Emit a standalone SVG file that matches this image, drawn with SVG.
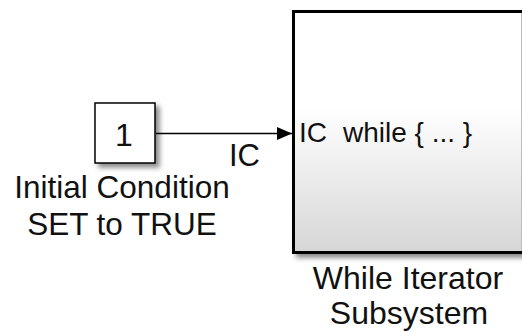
<svg xmlns="http://www.w3.org/2000/svg" width="522" height="332" viewBox="0 0 522 332">
  <style>
    .lbl { font-family: "Liberation Sans", Arial, sans-serif; fill: #111; }
    .blk { stroke: #000; }
  </style>
  <defs>
    <filter id="shadow" x="-10%" y="-10%" width="130%" height="130%">
      <feDropShadow dx="4" dy="4" stdDeviation="2.5" flood-color="#000" flood-opacity="0.45"/>
    </filter>
    <linearGradient id="grad" x1="0" y1="0" x2="0" y2="1">
      <stop offset="0" stop-color="#ffffff"/>
      <stop offset="0.4" stop-color="#ffffff"/>
      <stop offset="1" stop-color="#d6d6d6"/>
    </linearGradient>
    <marker id="arrow" markerUnits="userSpaceOnUse" markerWidth="16" markerHeight="14" refX="15" refY="6.5" orient="auto">
      <path d="M0,0 L15,6.5 L0,13 Z" fill="#000"/>
    </marker>
  </defs>

  <g id="connectors">
    <line x1="156" y1="133.5" x2="292" y2="133.5" stroke="#000" stroke-width="1.5" marker-end="url(#arrow)"/>
    <text class="lbl" x="229" y="166" font-size="31">IC</text>
  </g>

  <g id="constant">
    <rect class="blk" x="95" y="103" width="60" height="60" fill="#fff" stroke-width="1.5" filter="url(#shadow)"/>
    <text class="lbl" x="124" y="146" font-size="32" text-anchor="middle">1</text>
    <text class="lbl" x="122" y="198" font-size="31.5" text-anchor="middle">Initial Condition</text>
    <text class="lbl" x="122" y="235" font-size="31.5" text-anchor="middle">SET to TRUE</text>
  </g>

  <g id="while_subsystem">
    <rect class="blk" x="293.5" y="11.5" width="260" height="241" fill="url(#grad)" stroke-width="3" filter="url(#shadow)"/>
    <line x1="521.5" y1="13" x2="521.5" y2="251" stroke="#bdbdbd" stroke-width="1"/>
    <text class="lbl" x="299" y="142" font-size="28">IC</text>
    <text class="lbl" x="343" y="142" font-size="28">while { ... }</text>
    <text class="lbl" x="408" y="289" font-size="32" text-anchor="middle">While Iterator</text>
    <text class="lbl" x="409" y="324" font-size="32" text-anchor="middle">Subsystem</text>
  </g>
</svg>
